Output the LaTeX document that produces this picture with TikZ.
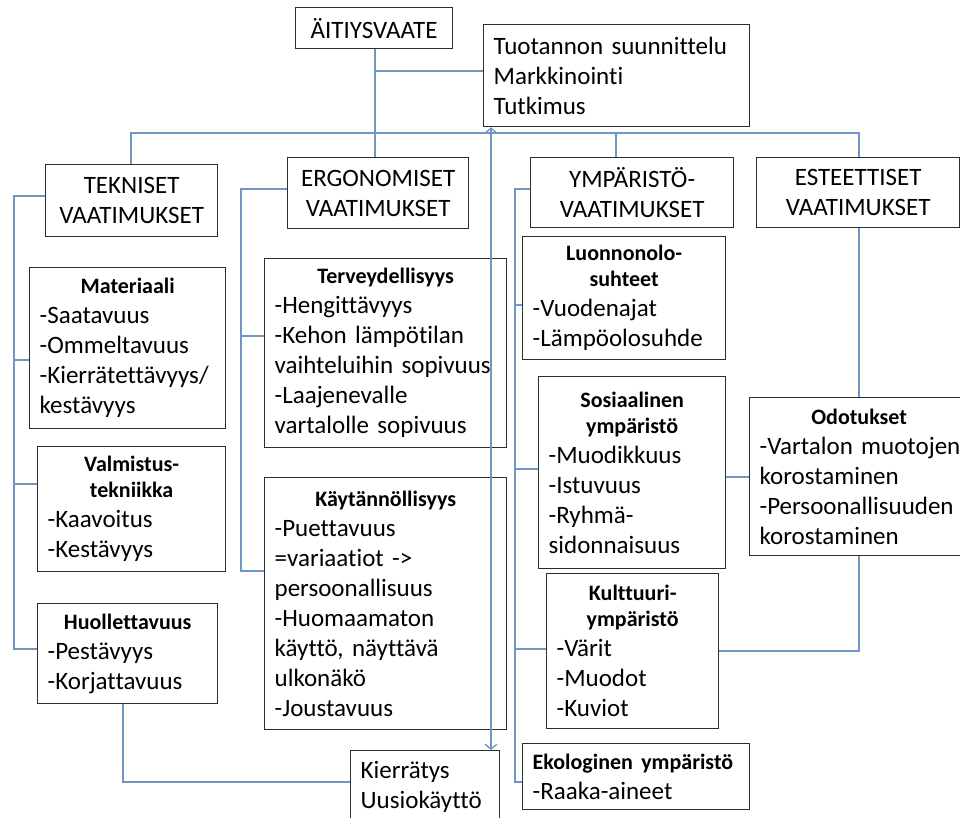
\documentclass[tikz,border=0pt]{standalone}
\usepackage{fontspec}
\setmainfont{Carlito}[WordSpace=0.75,Ligatures=NoCommon]
\usetikzlibrary{arrows.meta}
\definecolor{connc}{RGB}{112,150,196}
\definecolor{boxc}{RGB}{45,45,45}
\newcommand{\hd}[1]{{\centering\bfseries\fontsize{22}{26}\selectfont #1\par}}
\newcommand{\nohy}{\hyphenpenalty=10000\relax\exhyphenpenalty=10000\relax}
\tikzset{
  bx/.style={draw=boxc, line width=1.3pt, anchor=north west, inner xsep=10pt, inner ysep=0pt,
    font=\fontsize{25}{30}\selectfont\nohy, align=left},
  topbx/.style={bx, align=center},
  ln/.style={draw=connc, line width=1.3pt},
  tip/.style={{Straight Barb[length=5pt,width=12pt]}-{Straight Barb[length=5pt,width=12pt]}}
}
\begin{document}
\begin{tikzpicture}[x=1pt,y=-1pt]
\fill[white] (0,0) rectangle (960,818);
\useasboundingbox (0,0) rectangle (960,818);

% top level
\node[topbx, minimum width=157pt, text width=137pt, minimum height=41pt] (aiti) at (295,7) {ÄITIYSVAATE};
\node[bx, minimum width=266pt, text width=246pt, minimum height=102pt] (tuot) at (483,24)
  {Tuotannon~suunnittelu\\Markkinointi\\Tutkimus};
\node[topbx, minimum width=172pt, text width=152pt, minimum height=72pt] (tek) at (45,164) {TEKNISET\\VAATIMUKSET};
\node[topbx, minimum width=181pt, text width=161pt, minimum height=71pt] (ergo) at (287,157) {ERGONOMISET\\VAATIMUKSET};
\node[topbx, minimum width=203pt, text width=183pt, minimum height=70pt] (ymp) at (530,157) {YMPÄRISTÖ-\\VAATIMUKSET};
\node[topbx, minimum width=203pt, text width=183pt, minimum height=70pt] (est) at (756,157) {ESTEETTISET\\VAATIMUKSET};

% tekniset
\node[bx, minimum width=196pt, text width=176pt, minimum height=161pt] (mat) at (29,267)
  {\hd{Materiaali}-Saatavuus\\-Ommeltavuus\\-Kierrätettävyys/\\kestävyys};
\node[bx, minimum width=188pt, text width=168pt, minimum height=125pt] (val) at (37,446)
  {\hd{Valmistus-\\tekniikka}-Kaavoitus\\-Kestävyys};
\node[bx, minimum width=180pt, text width=160pt, minimum height=100pt] (hu) at (37,603)
  {\hd{Huollettavuus}-Pestävyys\\-Korjattavuus};

% ergonomiset
\node[bx, minimum width=242pt, text width=222pt, minimum height=189pt] (ter) at (264,258)
  {\hd{Terveydellisyys}-Hengittävyys\\-Kehon~lämpötilan\\vaihteluihin~sopivuus\\-Laajenevalle\\vartalolle~sopivuus};
\node[bx, minimum width=242pt, text width=222pt, minimum height=252pt] (kay) at (264,477)
  {\hd{Käytännöllisyys}-Puettavuus\\=variaatiot~->\\persoonallisuus\\-Huomaamaton\\käyttö,~näyttävä\\ulkonäkö\\-Joustavuus};

% ymparisto
\node[bx, minimum width=203pt, text width=183pt, minimum height=123pt] (luo) at (522,236)
  {\hd{Luonnonolo-\\suhteet}-Vuodenajat\\-Lämpöolosuhde};
\node[bx, minimum width=187pt, text width=167pt, minimum height=192pt] (sos) at (538,376)
  {\hd{Sosiaalinen\\ympäristö}-Muodikkuus\\-Istuvuus\\-Ryhmä-\\sidonnaisuus};
\node[bx, minimum width=172pt, text width=152pt, minimum height=155pt] (kul) at (546,573)
  {\hd{Kulttuuri-\\ympäristö}-Värit\\-Muodot\\-Kuviot};
\node[bx, minimum width=227pt, text width=207pt, minimum height=66pt] (eko) at (522,743)
  {{\bfseries\fontsize{22}{26}\selectfont Ekologinen~ympäristö\par}-Raaka-aineet};

% esteettiset
\node[bx, minimum width=219pt, text width=199pt, minimum height=158pt] (odo) at (749,397)
  {\hd{Odotukset}-Vartalon~muotojen\\korostaminen\\-Persoonallisuuden\\korostaminen};

% kierratys
\node[bx, minimum width=149pt, text width=129pt, minimum height=73pt] (kie) at (350,750)
  {Kierrätys\\Uusiokäyttö};

% connectors
\coordinate (j1) at (375,71);
\draw[ln] ([xshift=80pt]aiti.south west) -- ([xshift=88pt]ergo.north west);
\draw[ln] (j1) -- (j1 -| tuot.west);
\coordinate (bl) at (131,133);
\coordinate (bm) at (616,133);
\coordinate (br) at (859,133);
\draw[ln] (bl |- tek.north) -- (bl) -- (br) -- (br |- est.north);
\draw[ln] (bm) -- (bm |- ymp.north);

\coordinate (tk) at (14,196);
\coordinate (tk1) at (14,360);
\coordinate (tk2) at (14,484);
\coordinate (tk3) at (14,649);
\draw[ln] (tk -| tek.west) -- (tk) -- (tk3) -- (tk3 -| hu.west);
\draw[ln] (tk1) -- (tk1 -| mat.west);
\draw[ln] (tk2) -- (tk2 -| val.west);

\coordinate (eg) at (241,189);
\coordinate (eg1) at (241,336);
\coordinate (eg2) at (241,571);
\draw[ln] (eg -| ergo.west) -- (eg) -- (eg2) -- (eg2 -| kay.west);
\draw[ln] (eg1) -- (eg1 -| ter.west);

\coordinate (yg) at (515,189);
\coordinate (y1) at (515,305);
\coordinate (y2) at (515,469);
\coordinate (y3) at (515,649);
\coordinate (y4) at (515,782);
\draw[ln] (yg -| ymp.west) -- (yg) -- (y4) -- (y4 -| eko.west);
\draw[ln] (y1) -- (y1 -| luo.west);
\draw[ln] (y2) -- (y2 -| sos.west);
\draw[ln] (y3) -- (y3 -| kul.west);

\coordinate (eo) at (859,651);
\coordinate (so) at (737,477);
\draw[ln] (br |- est.south) -- (br |- odo.north);
\draw[ln] (br |- odo.south) -- (eo) -- (eo -| kul.east);
\draw[ln] (so -| sos.east) -- (so -| odo.west);

\coordinate (hk) at (123,782);
\draw[ln] (hk |- hu.south) -- (hk) -- (hk -| kie.west);

\coordinate (ar) at (491,0);
\draw[ln, tip] (ar |- tuot.south) -- (ar |- kie.north);
\end{tikzpicture}
\end{document}
